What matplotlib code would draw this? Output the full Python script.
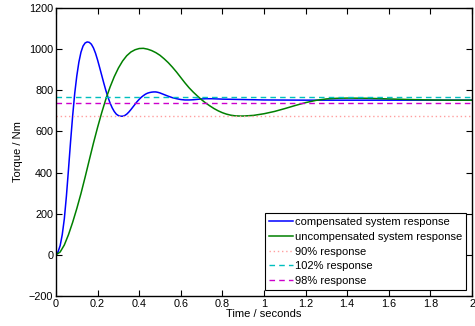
import numpy as np
import matplotlib
matplotlib.use('Agg')
import matplotlib.pyplot as plt

plt.rcParams['font.family'] = ['Liberation Sans', 'DejaVu Sans']

# datos
t_comp = [0.00, 0.01, 0.02, 0.03, 0.04, 0.05, 0.06, 0.07, 0.08, 0.09,
          0.10, 0.11, 0.12, 0.13, 0.14, 0.15, 0.16, 0.17, 0.18, 0.19,
          0.20, 0.21, 0.22, 0.23, 0.24, 0.25, 0.26, 0.27, 0.28, 0.29,
          0.30, 0.31, 0.32, 0.33, 0.34, 0.35, 0.36, 0.37, 0.38, 0.39,
          0.40, 0.41, 0.42, 0.43, 0.44, 0.45, 0.46, 0.47, 0.48, 0.49,
          0.50, 0.52, 0.54, 0.56, 0.58, 0.60, 0.62, 0.64, 0.66, 0.68,
          0.70, 0.72, 0.75, 0.80, 0.90, 1.00, 1.20, 1.50, 2.00]
torque_comp = [0, 15, 45, 98, 175, 285, 415, 550, 675, 785,
               870, 937, 985, 1015, 1030, 1035, 1033, 1024, 1006, 980,
               947, 910, 872, 834, 798, 766, 738, 715, 697, 684,
               677, 674, 674, 677, 684, 694, 706, 719, 732, 745,
               756, 766, 774, 781, 786, 789, 791, 792, 792, 790,
               787, 779, 771, 764, 759, 755, 753, 753, 754, 756,
               758, 759, 759, 757, 755, 753, 752, 752, 752]

t_uncomp = [0.00, 0.02, 0.04, 0.06, 0.08, 0.10, 0.12, 0.14, 0.16, 0.18,
            0.20, 0.22, 0.24, 0.26, 0.28, 0.30, 0.32, 0.34, 0.36, 0.38,
            0.40, 0.42, 0.44, 0.46, 0.48, 0.50, 0.52, 0.54, 0.56, 0.58,
            0.60, 0.62, 0.64, 0.66, 0.68, 0.70, 0.72, 0.74, 0.76, 0.78,
            0.80, 0.82, 0.84, 0.86, 0.88, 0.90, 0.92, 0.95, 1.00, 1.05,
            1.10, 1.15, 1.20, 1.25, 1.30, 1.35, 1.40, 1.50, 1.60, 1.70,
            1.80, 1.90, 2.00]
torque_uncomp = [0, 14, 48, 98, 158, 225, 298, 378, 461, 543,
                 620, 692, 758, 816, 866, 908, 942, 968, 986, 997,
                 1003, 1004, 1000, 993, 983, 970, 953, 934, 912, 888,
                 862, 836, 812, 791, 772, 754, 738, 724, 711, 700,
                 691, 684, 679, 676, 675, 675, 676, 678, 686, 697,
                 711, 726, 740, 751, 758, 761, 762, 761, 758, 755,
                 753, 752, 752]

level_90 = 677
level_102 = 767
level_98 = 737

fig = plt.figure(figsize=(4.75, 3.26), dpi=100)
ax = fig.add_axes([56/475, 1-296/326, (472-56)/475, (296-8)/326])

ax.plot(t_comp, torque_comp, color=(0, 0, 1), lw=1.1, label='compensated system response')
ax.plot(t_uncomp, torque_uncomp, color=(0, 0.5, 0), lw=1.1, label='uncompensated system response')
ax.plot([0, 2], [level_90, level_90], color='#ff9f9f', lw=1.0, ls=(0, (1, 2)), label='90% response')
ax.plot([0, 2], [level_102, level_102], color=(0, 0.75, 0.75), lw=1.0, ls=(0, (4, 3)), label='102% response')
ax.plot([0, 2], [level_98, level_98], color='#cc00cc', lw=1.0, ls=(0, (4, 3)), label='98% response')

ax.set_xlim(0, 2)
ax.set_ylim(-200, 1200)
ax.set_xticks(np.arange(0, 2.01, 0.2))
ax.set_xticklabels(['0', '0.2', '0.4', '0.6', '0.8', '1', '1.2', '1.4', '1.6', '1.8', '2'])
ax.set_yticks(np.arange(-200, 1201, 200))
ax.set_yticklabels(['\u2212200', '0', '200', '400', '600', '800', '1000', '1200'])
ax.tick_params(direction='in', top=True, right=True, length=4, width=0.8,
               labelsize=7.8, pad=2)
for s in ax.spines.values():
    s.set_linewidth(1.0)

ax.set_xlabel('Time / seconds', fontsize=8, labelpad=0)
ax.set_ylabel('Torque / Nm', fontsize=8, labelpad=4)

leg = ax.legend(loc='lower right', fontsize=8, frameon=True, fancybox=False,
                edgecolor='black', framealpha=1, borderaxespad=0.55,
                handlelength=2.1, handletextpad=0.2, labelspacing=0.42,
                borderpad=0.35)
leg.get_frame().set_linewidth(0.8)

fig.savefig('out.png', dpi=100)
